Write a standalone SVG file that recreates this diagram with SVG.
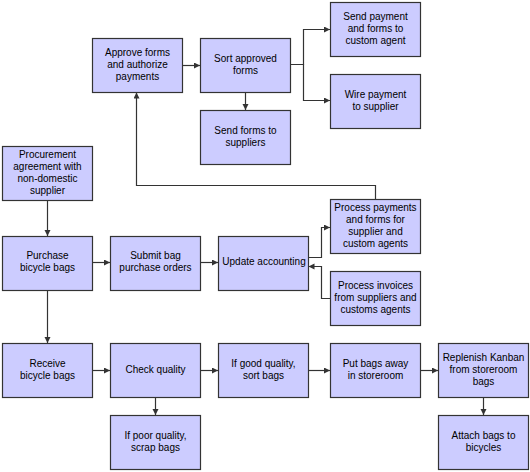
<svg xmlns="http://www.w3.org/2000/svg" width="530" height="472" viewBox="0 0 530 472">
<style>
.box{fill:#CCCCFF;stroke:#333333;stroke-width:1.2}
.t{font-family:"Liberation Sans",Arial,sans-serif;font-size:10px;fill:#000;text-anchor:middle}
.c{fill:none;stroke:#333333;stroke-width:1.2}
</style>
<defs>
<marker id="ah" markerUnits="userSpaceOnUse" markerWidth="7" markerHeight="7" refX="6" refY="3" orient="auto">
<path d="M0,0 L6,3 L0,6 z" fill="#333333"/>
</marker>
</defs>
<rect width="530" height="472" fill="#FFFFFF"/>
<g id="connectors">
<path class="c" d="M182.5,65.5 H200" marker-end="url(#ah)"/>
<path class="c" d="M245.5,92.5 V110" marker-end="url(#ah)"/>
<path class="c" d="M290.5,64.5 H303.5 V29.5 H330" marker-end="url(#ah)"/>
<path class="c" d="M303.5,64.5 V100.5 H330" marker-end="url(#ah)"/>
<path class="c" d="M375.5,199.5 V185.5 H136.5 V92.5" marker-end="url(#ah)"/>
<path class="c" d="M47.5,200.5 V236" marker-end="url(#ah)"/>
<path class="c" d="M47.5,290.5 V343" marker-end="url(#ah)"/>
<path class="c" d="M92.5,262.5 H110" marker-end="url(#ah)"/>
<path class="c" d="M200.5,262.5 H218" marker-end="url(#ah)"/>
<path class="c" d="M308.5,257.5 H321.5 V227.5 H330" marker-end="url(#ah)"/>
<path class="c" d="M330.5,298.5 H321.5 V266.5 H308.5" marker-end="url(#ah)"/>
<path class="c" d="M92.5,370.5 H110" marker-end="url(#ah)"/>
<path class="c" d="M200.5,370.5 H218" marker-end="url(#ah)"/>
<path class="c" d="M308.5,370.5 H330" marker-end="url(#ah)"/>
<path class="c" d="M420.5,370.5 H438" marker-end="url(#ah)"/>
<path class="c" d="M155.5,397.5 V415" marker-end="url(#ah)"/>
<path class="c" d="M483.5,397.5 V415" marker-end="url(#ah)"/>
</g>
<g id="approve"><rect class="box" x="92.5" y="38.5" width="90" height="54"/>
<text class="t"><tspan x="137.5" y="56">Approve forms</tspan><tspan x="137.5" y="68">and authorize</tspan><tspan x="137.5" y="80">payments</tspan></text></g>
<g id="sort"><rect class="box" x="200.5" y="38.5" width="90" height="54"/>
<text class="t"><tspan x="245.5" y="62">Sort approved</tspan><tspan x="245.5" y="74">forms</tspan></text></g>
<g id="sendforms"><rect class="box" x="200.5" y="110.5" width="90" height="54"/>
<text class="t"><tspan x="245.5" y="134">Send forms to</tspan><tspan x="245.5" y="146">suppliers</tspan></text></g>
<g id="sendpayment"><rect class="box" x="330.5" y="2.5" width="90" height="54"/>
<text class="t"><tspan x="375.5" y="20">Send payment</tspan><tspan x="375.5" y="32">and forms to</tspan><tspan x="375.5" y="44">custom agent</tspan></text></g>
<g id="wire"><rect class="box" x="330.5" y="74.5" width="90" height="54"/>
<text class="t"><tspan x="375.5" y="98">Wire payment</tspan><tspan x="375.5" y="110">to supplier</tspan></text></g>
<g id="procurement"><rect class="box" x="2.5" y="146.5" width="90" height="54"/>
<text class="t"><tspan x="47.5" y="158">Procurement</tspan><tspan x="47.5" y="170">agreement with</tspan><tspan x="47.5" y="182">non-domestic</tspan><tspan x="47.5" y="194">supplier</tspan></text></g>
<g id="purchase"><rect class="box" x="2.5" y="236.5" width="90" height="54"/>
<text class="t"><tspan x="47.5" y="259">Purchase</tspan><tspan x="47.5" y="271">bicycle bags</tspan></text></g>
<g id="submit"><rect class="box" x="110.5" y="236.5" width="90" height="54"/>
<text class="t"><tspan x="155.5" y="259">Submit bag</tspan><tspan x="155.5" y="271">purchase orders</tspan></text></g>
<g id="update"><rect class="box" x="218.5" y="236.5" width="90" height="54"/>
<text class="t"><tspan x="264" y="265">Update accounting</tspan></text></g>
<g id="processpayments"><rect class="box" x="330.5" y="199.5" width="90" height="54"/>
<text class="t"><tspan x="375.5" y="211">Process payments</tspan><tspan x="375.5" y="223">and forms for</tspan><tspan x="375.5" y="235">supplier and</tspan><tspan x="375.5" y="247">custom agents</tspan></text></g>
<g id="processinvoices"><rect class="box" x="330.5" y="271.5" width="90" height="54"/>
<text class="t"><tspan x="375.5" y="289">Process invoices</tspan><tspan x="375.5" y="301">from suppliers and</tspan><tspan x="375.5" y="313">customs agents</tspan></text></g>
<g id="receive"><rect class="box" x="2.5" y="343.5" width="90" height="54"/>
<text class="t"><tspan x="47.5" y="367">Receive</tspan><tspan x="47.5" y="379">bicycle bags</tspan></text></g>
<g id="check"><rect class="box" x="110.5" y="343.5" width="90" height="54"/>
<text class="t"><tspan x="155.5" y="373">Check quality</tspan></text></g>
<g id="poor"><rect class="box" x="110.5" y="415.5" width="90" height="54"/>
<text class="t"><tspan x="155.5" y="439">If poor quality,</tspan><tspan x="155.5" y="451">scrap bags</tspan></text></g>
<g id="good"><rect class="box" x="218.5" y="343.5" width="90" height="54"/>
<text class="t"><tspan x="263.5" y="367">If good quality,</tspan><tspan x="263.5" y="379">sort bags</tspan></text></g>
<g id="putaway"><rect class="box" x="330.5" y="343.5" width="90" height="54"/>
<text class="t"><tspan x="375.5" y="367">Put bags away</tspan><tspan x="375.5" y="379">in storeroom</tspan></text></g>
<g id="replenish"><rect class="box" x="438.5" y="343.5" width="90" height="54"/>
<text class="t"><tspan x="483.5" y="361">Replenish Kanban</tspan><tspan x="483.5" y="373">from storeroom</tspan><tspan x="483.5" y="385">bags</tspan></text></g>
<g id="attach"><rect class="box" x="438.5" y="415.5" width="90" height="54"/>
<text class="t"><tspan x="483.5" y="439">Attach bags to</tspan><tspan x="483.5" y="451">bicycles</tspan></text></g>
</svg>
